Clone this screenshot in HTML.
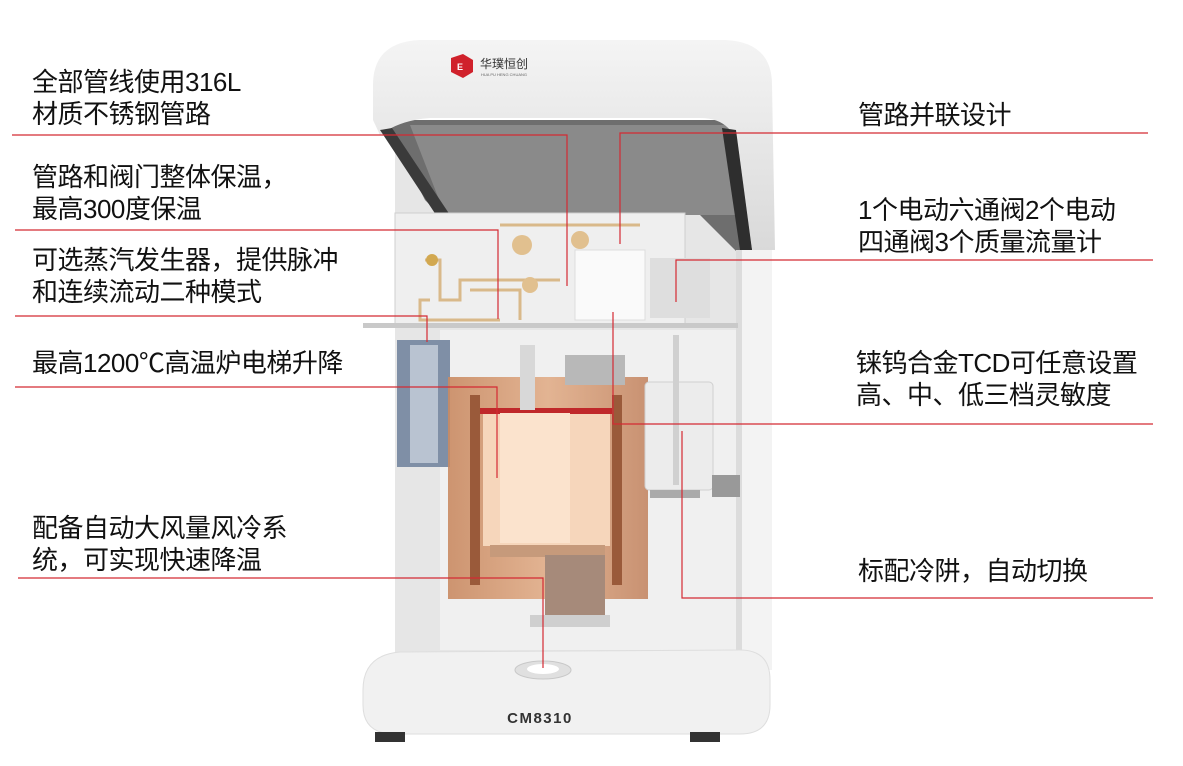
<!DOCTYPE html>
<html><head><meta charset="utf-8"><style>
html,body{margin:0;padding:0;background:#fff;}
body{width:1183px;height:766px;overflow:hidden;position:relative;font-family:"Liberation Sans","Noto Sans CJK SC",sans-serif;}
.t{position:absolute;font-size:26px;line-height:32px;color:#111;white-space:nowrap;letter-spacing:-0.5px;}
svg{position:absolute;left:0;top:0;}
</style></head><body>
<svg width="1183" height="766" viewBox="0 0 1183 766">
<defs>
<linearGradient id="cu" x1="0" x2="1"><stop offset="0" stop-color="#c98a62"/><stop offset="0.5" stop-color="#e1ad88"/><stop offset="1" stop-color="#c48764"/></linearGradient>
<linearGradient id="lid" x1="0" y1="0" x2="0" y2="1"><stop offset="0" stop-color="#f4f4f4"/><stop offset="1" stop-color="#d9d9d9"/></linearGradient>
</defs>
<rect x="395" y="150" width="350" height="505" fill="#e6e6e6"/>
<rect x="440" y="330" width="300" height="320" fill="#f0f0f0"/>
<polygon points="385,120 760,120 765,255 740,255 700,215 440,215 425,200" fill="#6e6e6e"/>
<polygon points="410,125 740,125 735,215 445,215" fill="#8a8a8a"/>
<path d="M373,120 L373,85 Q373,42 420,40 L725,40 Q772,42 772,85 L775,250 L752,250 L730,130 Q720,118 700,118 L430,118 Q400,120 380,135 Z" fill="url(#lid)"/>
<polygon points="380,130 392,128 450,215 438,218" fill="#3a3a3a"/>
<polygon points="722,128 736,130 752,250 740,250" fill="#2e2e2e"/>
<rect x="740" y="250" width="32" height="420" fill="#f3f3f3"/>
<rect x="736" y="250" width="6" height="420" fill="#dcdcdc"/>
<rect x="395" y="213" width="290" height="113" fill="#efefef" stroke="#cfcfcf"/>
<rect x="575" y="250" width="70" height="70" fill="#fafafa" stroke="#ddd"/>
<rect x="650" y="258" width="60" height="60" fill="#dedede"/>
<g fill="none" stroke="#d9b98a" stroke-width="3">
<path d="M425,260 L440,260 L440,300 L460,300 L460,280 L560,280"/>
<path d="M470,290 L520,290 L520,320"/>
<path d="M500,225 L640,225"/>
<path d="M430,300 L420,300 L420,320 L500,320"/>
</g>
<circle cx="522" cy="245" r="10" fill="#e1c08f"/><circle cx="580" cy="240" r="9" fill="#e1c08f"/>
<circle cx="530" cy="285" r="8" fill="#e1c08f"/><circle cx="432" cy="260" r="6" fill="#d2a850"/>
<rect x="363" y="323" width="375" height="5" fill="#c9c9c9"/>
<rect x="397" y="340" width="53" height="127" fill="#7f8fa6"/>
<rect x="410" y="345" width="28" height="118" fill="#b9c3d1"/>
<rect x="448" y="377" width="200" height="222" fill="url(#cu)" opacity="0.9"/>
<rect x="470" y="395" width="10" height="190" fill="#9a5a3a"/>
<rect x="612" y="395" width="10" height="190" fill="#9a5a3a"/>
<rect x="483" y="413" width="127" height="133" fill="#f6d6bb"/>
<rect x="480" y="408" width="132" height="6" fill="#c0282a"/>
<rect x="500" y="413" width="70" height="130" fill="#fbe3cd"/>
<rect x="490" y="545" width="115" height="12" fill="#c69a7b"/>
<rect x="545" y="555" width="60" height="65" fill="#a68a7a"/>
<rect x="530" y="615" width="80" height="12" fill="#cfcfcf"/>
<rect x="520" y="345" width="15" height="65" fill="#d8d8d8"/>
<rect x="565" y="355" width="60" height="30" fill="#b8b8b8"/>
<rect x="645" y="382" width="68" height="108" rx="4" fill="#ececec" stroke="#d0d0d0"/>
<rect x="673" y="335" width="6" height="150" fill="#d0d0d0"/>
<rect x="712" y="475" width="28" height="22" fill="#999"/>
<rect x="650" y="490" width="50" height="8" fill="#aaa"/>
<path d="M363,690 Q363,655 400,652 L740,650 Q770,650 770,680 L770,705 Q770,734 740,734 L395,734 Q363,734 363,705 Z" fill="#f1f1f1" stroke="#dedede"/>
<rect x="375" y="732" width="30" height="10" fill="#333"/>
<rect x="690" y="732" width="30" height="10" fill="#333"/>
<ellipse cx="543" cy="670" rx="28" ry="9" fill="#e0e0e0" stroke="#c8c8c8"/>
<ellipse cx="543" cy="669" rx="16" ry="5" fill="#fff"/>
<text x="540" y="723" font-family="Liberation Sans" font-weight="bold" font-size="15" fill="#333" text-anchor="middle" letter-spacing="1.5">CM8310</text>
<polygon points="451,58 463,54 473,60 473,72 463,78 451,72" fill="#d0212b"/>
<text x="460" y="70" font-size="9" fill="#fff" text-anchor="middle" font-weight="bold">E</text>
<text x="480" y="68" font-family="Noto Sans CJK SC" font-size="12" fill="#333">华璞恒创</text>
<text x="481" y="76" font-size="4" fill="#666">HUA PU HENG CHUANG</text>
<g fill="none" stroke="#d42a33" stroke-width="1.2">
<polyline points="12,135 567,135 567,286"/>
<polyline points="15,230 498,230 498,319"/>
<polyline points="15,316 427,316 427,342"/>
<polyline points="15,387 497,387 497,478"/>
<polyline points="18,578 543,578 543,668"/>
<polyline points="1148,133 620,133 620,244"/>
<polyline points="1153,260 676,260 676,302"/>
<polyline points="1153,424 613,424 613,312"/>
<polyline points="1153,598 682,598 682,431"/>
</g>
</svg>
<div class="t" style="left:32px;top:66px">全部管线使用316L<br>材质不锈钢管路</div>
<div class="t" style="left:32px;top:161px">管路和阀门整体保温，<br>最高300度保温</div>
<div class="t" style="left:32px;top:244px">可选蒸汽发生器，提供脉冲<br>和连续流动二种模式</div>
<div class="t" style="left:32px;top:347px">最高1200℃高温炉电梯升降</div>
<div class="t" style="left:32px;top:512px">配备自动大风量风冷系<br>统，可实现快速降温</div>
<div class="t" style="left:858px;top:99px">管路并联设计</div>
<div class="t" style="left:858px;top:194px">1个电动六通阀2个电动<br>四通阀3个质量流量计</div>
<div class="t" style="left:856px;top:347px">铼钨合金TCD可任意设置<br>高、中、低三档灵敏度</div>
<div class="t" style="left:858px;top:555px">标配冷阱，自动切换</div>
</body></html>
